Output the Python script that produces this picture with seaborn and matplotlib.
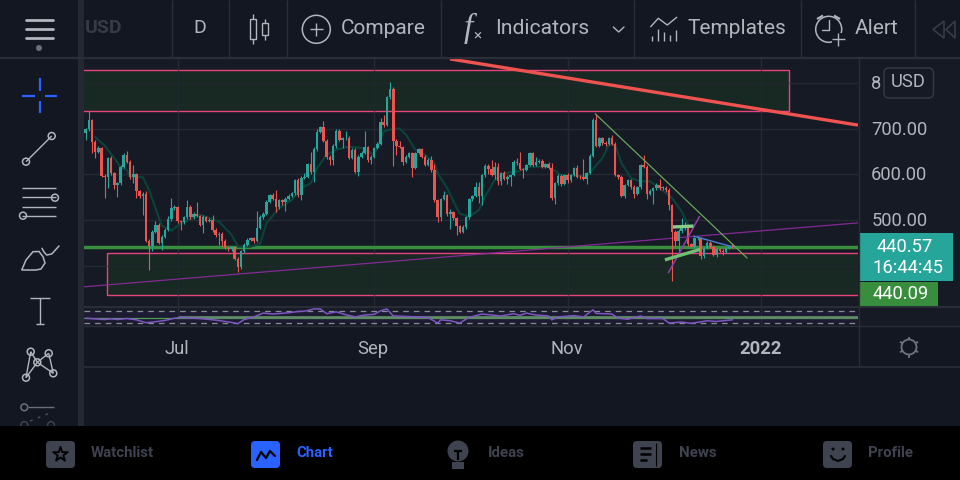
import numpy as np
import pandas as pd
import seaborn as sns
import matplotlib
matplotlib.use("Agg")
import matplotlib.pyplot as plt
from matplotlib.patches import Rectangle, Circle, FancyBboxPatch, Polygon
from matplotlib.transforms import ScaledTranslation

# ---------- data ----------
start_date = "2021-06-02"
first_open = 690
closes = [
    699,720,672,650,658,597,595,637,603,577,
    581,617,643,628,594,601,563,552,558,455,
    444,474,490,451,464,479,503,526,529,498,
    496,506,529,506,514,509,490,506,498,501,
    479,467,470,455,439,436,441,416,398,432,
    446,457,461,455,483,506,514,540,555,547,
    528,544,539,546,553,559,587,555,593,595,
    623,606,656,694,704,674,639,632,663,696,
    676,679,680,637,654,606,638,648,660,632,
    639,658,667,715,709,769,788,674,663,660,
    628,638,647,614,647,655,639,621,632,609,
    543,506,546,555,514,517,504,487,475,486,
    506,546,553,573,552,598,619,612,599,616,
    585,603,590,595,599,628,625,612,610,621,
    647,621,628,630,617,622,614,548,581,597,
    579,599,587,599,614,595,594,590,603,641,
    720,663,679,668,667,680,667,599,595,553,
    577,587,572,558,572,621,617,557,564,570,
    577,570,571,565,533,475,455,476,482,482,
    448,442,460,460,422,439,451,441,424,437,
    433,430,439,442,441,
]
wick_up = [
    3,18,2,4,4,3,3,2,3,3,
    2,4,5,9,3,20,3,3,4,5,
    3,5,9,3,3,4,5,22,5,3,
    3,4,15,4,4,25,3,5,3,3,
    11,3,3,3,3,2,3,3,3,3,
    3,4,3,3,37,5,3,3,3,5,
    18,3,3,4,4,3,3,5,3,8,
    3,27,5,5,3,13,3,3,4,3,
    3,4,16,4,3,3,4,4,36,3,
    3,3,3,8,15,3,15,3,3,11,
    3,4,3,3,3,3,3,3,3,8,
    15,3,3,8,3,8,3,3,3,3,
    3,3,3,10,10,3,3,3,20,12,
    10,3,4,4,3,3,8,24,3,3,
    3,3,11,3,3,3,5,12,3,3,
    3,3,4,3,3,6,3,40,3,3,
    3,13,3,3,5,3,6,3,3,3,
    3,4,3,5,3,3,22,3,5,3,
    4,13,3,3,6,3,3,5,22,13,
    3,3,3,6,3,3,3,3,5,3,
    3,3,3,3,8,
]
wick_dn = [
    15,3,25,13,3,3,47,25,4,8,
    27,5,3,3,5,13,15,3,40,3,
    54,12,3,3,17,3,3,4,3,4,
    17,5,3,4,3,3,3,18,3,3,
    4,4,22,12,3,3,3,3,11,5,
    3,3,3,6,3,3,3,3,3,3,
    11,3,5,20,3,3,3,5,11,3,
    3,5,22,5,3,3,5,11,11,4,
    3,18,4,3,3,3,9,3,3,4,
    8,3,3,3,5,3,3,55,20,3,
    8,3,3,20,3,3,3,3,3,3,
    3,11,7,3,5,33,3,20,3,3,
    5,3,5,3,15,18,3,11,3,8,
    8,8,3,11,20,3,5,3,17,3,
    3,3,3,3,3,3,3,3,12,3,
    5,3,5,3,3,3,3,3,10,3,
    3,3,3,3,5,3,3,3,6,3,
    5,3,3,10,3,3,3,11,3,29,
    3,3,3,3,11,108,12,31,5,3,
    5,3,3,3,8,5,3,3,3,5,
    3,6,3,3,3,
]
ma_days = [3,6,9,11,13,14,18,20,22,24,27,30,33,36,42,46,48,52,55,57,61,65,68,71,73,76,79,83,87,91,
           94,96,99,101,104,107,110,111,114,116,118,121,124,126,129,132,136,140,146,150,153,158,163,165,
           167,169,172,175,178,181,185,188,190]
ma_vals = [682,663,636,616,610,595,594,566,526,488,477,493,502,512,497,468,442,442,448,493,526,544,570,581,614,643,654,661,658,643,
           694,698,701,687,654,643,625,603,570,541,514,508,522,552,588,603,606,617,617,599,599,595,636,665,
           665,625,592,585,585,570,548,519,490]
rsi_days = [0,3,6,8,10,13,16,19,22,25,28,31,32,36,41,46,48,50,53,56,59,64,67,69,72,74,76,79,82,85,88,91,93,95,97,100,104,
            108,111,112,115,118,121,125,129,131,135,137,139,142,146,147,149,154,157,160,161,166,168,171,175,177,182,184,188,191,196,199,204]
rsi_vals = [46,44,42,44,42,45,41,32,35,39,46,49,47,45,40,33,29,42,50,62,59,63,67,68,75,75,60,66,57,50,56,58,69,75,53,52,50,
            48,31,41,38,31,49,59,55,53,60,55,62,56,53,41,50,54,50,72,61,59,46,43,53,45,45,31,34,30,38,36,41]
price_ticks = [400, 500, 600, 700, 800]
price_labels = ["", "500.00", "600.00", "700.00", "8"]
month_dates = ["2021-07-01", "2021-09-01", "2021-11-01", "2022-01-01"]
month_labels = ["Jul", "Sep", "Nov", "2022"]
last_price = 440.57
prev_price = 440.09
countdown = "16:44:45"

top_zone_days = (-30, 221.7); top_zone_prices = (738, 829)
low_zone_days = (6.7, 300); low_zone_prices = (337, 429)
purple_days = (-0.54, 243.6); purple_prices = (354, 494)
red_days = (114.9, 243.6); red_prices = (853, 708)
green_days = (160.7, 208.6); green_prices = (733, 417)
purple2_days = (183.8, 193.6); purple2_prices = (385, 508)
flag1_days = (185.2, 191.7); flag1_prices = (485, 487)
flag2_days = (182.7, 193.8); flag2_prices = (413, 436)
blue_days = (191.7, 203.8); blue_prices = (465, 442)

# ---------- colours ----------
BG = "#131722"; CHART = "#161a25"; SEP = "#2a2e39"; GRID = "#252933"
TXT = "#b2b5be"; UP = "#26a69a"; DOWN = "#ef5350"; PINK = "#e8437c"
ZONE = "#182823"; DIM = "#3f4350"

sns.set_theme(style="dark", rc={"axes.edgecolor": CHART, "axes.linewidth": 0})
plt.rcParams["font.family"] = ["Roboto", "DejaVu Sans"]

fig = plt.figure(figsize=(9.6, 4.8), dpi=100, facecolor=BG)

def add_px_axes(x0, y0, x1, y1, z):
    return fig.add_axes([x0/960, 1-y1/480, (x1-x0)/960, (y1-y0)/480], zorder=z)

# ---------- base chrome ----------
base = add_px_axes(0, 0, 960, 480, 0)
base.set_xlim(0, 960); base.set_ylim(480, 0); base.axis("off")
base.add_patch(Rectangle((858, 58), 102, 268, color=CHART, lw=0))

# ---------- price pane ----------
ax = add_px_axes(84, 58, 858, 306, 1)
ax.set_facecolor(CHART)
days = np.arange(len(closes))
c = np.array(closes, float)
o = np.r_[first_open, c[:-1]]
hi = np.maximum(o, c) + np.array(wick_up)
lo = np.minimum(o, c) - np.array(wick_dn)
cols = [UP if a >= b else DOWN for a, b in zip(c, o)]

t0 = pd.Timestamp(start_date)
tick_days = [(pd.Timestamp(d) - t0).days for d in month_dates]
xlim = (-0.54, 243.6)
ylim = (312, 855)

for v in price_ticks:
    ax.axhline(v, color=GRID, lw=1, zorder=0)
for d in tick_days:
    ax.axvline(d, color=GRID, lw=1, zorder=0)

ax.add_patch(Rectangle((top_zone_days[0], top_zone_prices[0]), top_zone_days[1]-top_zone_days[0],
                       top_zone_prices[1]-top_zone_prices[0], fc=ZONE, ec=PINK, lw=1.0, zorder=1))
ax.add_patch(Rectangle((low_zone_days[0], low_zone_prices[0]), low_zone_days[1]-low_zone_days[0],
                       low_zone_prices[1]-low_zone_prices[0], fc=ZONE, ec=PINK, lw=1.0, zorder=1))
for d in tick_days:
    ax.axvline(d, color=GRID, lw=1, alpha=0.6, zorder=1.5)
for v in price_ticks:
    ax.axhline(v, color=GRID, lw=1, alpha=0.6, zorder=1.5)
ax.axhline(prev_price, color="#388e3c", lw=2.5, zorder=2)
ax.plot(purple_days, purple_prices, color="#8e2ba0", lw=0.9, alpha=0.9, zorder=2)

sns.lineplot(x=ma_days, y=ma_vals, ax=ax, color="#0b4339", linewidth=1.5, errorbar=None, legend=False, zorder=3)

ax.vlines(days, lo, hi, colors=cols, lw=0.8, zorder=4)
ax.bar(days, np.maximum(np.abs(c-o), 1.5), bottom=np.minimum(o, c), width=0.8, color=cols, lw=0, zorder=5)

ax.plot(red_days, red_prices, color=DOWN, lw=2.4, zorder=6, solid_capstyle="butt")
ax.plot(green_days, green_prices, color="#68a65c", lw=0.9, zorder=6)
ax.plot(purple2_days, purple2_prices, color="#8e3fa8", lw=1.1, zorder=6)
ax.plot(flag1_days, flag1_prices, color="#86cf8a", lw=2.4, zorder=6, solid_capstyle="butt")
ax.plot(flag2_days, flag2_prices, color="#6fbf73", lw=2.4, zorder=6, solid_capstyle="butt")
ax.plot(blue_days, blue_prices, color="#4a7fd0", lw=1, zorder=6)

ax.set_xlim(*xlim); ax.set_ylim(*ylim)
ax.set_xlabel(""); ax.set_ylabel("")
ax.set_xticks([])
ax.yaxis.tick_right()
ax.set_yticks(price_ticks, price_labels)
ax.tick_params(axis="y", length=0, pad=9.5, labelsize=13.2, labelcolor=TXT)
up1 = ScaledTranslation(0, 1/100, fig.dpi_scale_trans)
for t in ax.get_yticklabels():
    t.set_transform(t.get_transform() + up1)
ax.grid(False)

# ---------- RSI pane ----------
rx = add_px_axes(84, 307, 858, 326, 1)
rx.set_facecolor("#181c28")
rx.axhspan(30, 70, color="#1c1b31", lw=0, zorder=0)
for d in tick_days:
    rx.axvline(d, color=GRID, lw=1, zorder=0)
for lev in (30, 70):
    rx.axhline(lev, color="#8a8d96", lw=0.9, ls=(0, (4.5, 4)), zorder=1)
rx.axhline(47.5, color="#4f9d54", lw=0.9, zorder=2)
rx.plot((tick_days[0], xlim[1]), (49.5, 49.5), color="#5f8a66", lw=2, zorder=2, solid_capstyle="butt")
sns.lineplot(x=rsi_days, y=rsi_vals, ax=rx, color="#7e57c2", linewidth=1.1, errorbar=None, legend=False, zorder=3)
rx.set_xlim(*xlim); rx.set_ylim(21.7, 81)
rx.set_xlabel(""); rx.set_ylabel("")
rx.set_yticks([])
rx.set_xticks(tick_days, month_labels)
rx.tick_params(axis="x", length=0, pad=10, labelsize=13.2, labelcolor=TXT)
left1 = ScaledTranslation(-1/100, 0, fig.dpi_scale_trans)
for t in rx.get_xticklabels()[:-1]:
    t.set_transform(t.get_transform() + left1)
rx.get_xticklabels()[-1].set_fontweight("bold")
rx.grid(False)

# ---------- overlay chrome ----------
ov = add_px_axes(0, 0, 960, 480, 5)
ov.set_xlim(0, 960); ov.set_ylim(480, 0); ov.axis("off"); ov.patch.set_alpha(0)

def seg(x0, y0, x1, y1, color=SEP, lw=1.0, **k):
    ov.plot([x0, x1], [y0, y1], color=color, lw=lw, solid_capstyle=k.pop("cap", "butt"), **k)

def ring(x, y, r, color=TXT, lw=1.1, fc="none"):
    ov.add_patch(Circle((x, y), r, fc=fc, ec=color, lw=lw))

def label(x, y, s, color=TXT, size=15, ha="left", weight="normal", **k):
    ov.text(x, y, s, color=color, fontsize=size, ha=ha, va="center", fontweight=weight, **k)

# panels and separators
ov.add_patch(Rectangle((0, 0), 960, 57, color=BG, lw=0))
ov.add_patch(Rectangle((0, 57), 78, 369, color=BG, lw=0))
ov.add_patch(Rectangle((78, 0), 6, 426, color="#242833", lw=0))
ov.add_patch(Rectangle((84, 366), 876, 60, color=BG, lw=0))
ov.add_patch(Rectangle((0, 426), 960, 54, color="#000000", lw=0))
seg(0, 57.5, 960, 57.5, lw=1.6)
seg(84, 306.5, 960, 306.5, lw=1.4)
seg(84, 326, 960, 326, lw=1)
seg(84, 366.5, 960, 366.5, lw=1.2)
seg(858.5, 57, 858.5, 366, lw=1)
for x in (172, 229, 287, 441, 634, 801, 915):
    seg(x, 0, x, 57, lw=1)

# top bar
for y in (19.7, 29, 38):
    seg(26, y, 52.5, y, color=TXT, lw=2, cap="round")
ov.add_patch(Circle((39, 48), 3, color="#6b6f7a", lw=0))
label(104, 28, "USD", color="#363a45", size=14, ha="center", weight="bold",
      clip_on=True, clip_path=Rectangle((85, 0), 100, 57, transform=ov.transData))
label(200, 28, "D", ha="center", size=14)
for bx, bw, by, bh, wx, w0, w1 in ((249.7, 6.3, 19, 20.3, 253, 14, 43.5), (261.7, 6.6, 23.3, 11.7, 265, 19, 39.5)):
    seg(wx, w0, wx, by, color=TXT); seg(wx, by+bh, wx, w1, color=TXT)
    ov.add_patch(Rectangle((bx, by), bw, bh, fc="none", ec=TXT, lw=1))
ring(316.3, 29.3, 14)
seg(310, 29.3, 322.6, 29.3, color=TXT); seg(316.3, 23, 316.3, 35.6, color=TXT)
label(341, 28, "Compare", size=15)
ov.text(468, 28, "f", color=TXT, fontsize=24, family="Liberation Serif", style="italic", ha="center", va="center")
ov.text(477, 36, "×", color=TXT, fontsize=11, ha="center", va="center")
label(495, 28, "Indicators", size=15.2)
ov.plot([613.3, 618.7, 624], [27, 32, 27], color=TXT, lw=1)
ov.plot([650.7, 658.3, 667.3, 676.7], [26.7, 18.3, 25, 17.3], color=TXT, lw=1)
for x, top in zip((651.7, 657.7, 663.7, 669.7, 675.7), (36, 29.3, 31.7, 35, 30)):
    seg(x, 40.7, x, top, color=TXT, lw=1)
label(688, 28, "Templates", size=15)
ring(828.7, 29.3, 13)
ov.plot([828.7, 828.7, 822], [20, 29.5, 29.5], color=TXT, lw=1)
seg(817, 19, 823, 15.5, color=TXT, lw=1.5); seg(834, 15.5, 840, 19, color=TXT, lw=1.5)
ov.add_patch(Rectangle((832, 33), 12.5, 12.5, color=BG, lw=0))
seg(832, 39.3, 844.6, 39.3, color=TXT); seg(838.3, 33, 838.3, 45.5, color=TXT)
label(855, 28, "Alert", size=15)
ov.add_patch(Polygon([(944, 21), (933, 29.5), (944, 38)], fc="none", ec="#3a3e49", lw=1.1))
ov.add_patch(Polygon([(955, 21), (946, 29.5), (955, 38)], fc="none", ec="#3a3e49", lw=1.1))

# USD chip and price tags
ov.add_patch(FancyBboxPatch((884, 68), 49.5, 30, boxstyle="round,pad=0,rounding_size=5", fc=CHART, ec="#363a45", lw=1))
label(908.5, 82, "USD", ha="center", size=13.2)
ov.add_patch(Rectangle((859, 233), 94, 48, color=UP, lw=0))
label(905, 247, f"{last_price:.2f}", color="white", ha="center", size=13.2)
label(908, 268, countdown, color="white", ha="center", size=13.2)
ov.add_patch(Rectangle((859, 282), 79, 24, color="#388e3c", lw=0))
label(901, 294, f"{prev_price:.2f}", color="white", ha="center", size=13.2)

# gear
ring(909, 347, 7.5, color="#6f7380", lw=1.3)
for a in np.deg2rad(np.arange(0, 360, 60) + 30):
    seg(909+7.5*np.cos(a), 347+7.5*np.sin(a), 909+10.5*np.cos(a), 347+10.5*np.sin(a), color="#6f7380", lw=1.3)

# left tools
BLUE = "#2962ff"
seg(22, 95.7, 34.7, 95.7, color=BLUE, lw=1.6); seg(45, 95.7, 57, 95.7, color=BLUE, lw=1.6)
seg(39.7, 78, 39.7, 90.7, color=BLUE, lw=1.6); seg(39.7, 100.7, 39.7, 112.7, color=BLUE, lw=1.6)
seg(26, 161.7, 51.7, 136, color=TXT)
ring(26, 161.7, 3.5, fc=BG); ring(51.7, 136, 3.5, fc=BG)
for y in (188.3, 197.3, 206.7, 215.7):
    seg(22, y, 55.7, y, color=TXT)
ring(55, 197.7, 3.5, fc=BG); ring(23, 215.7, 3.5, fc=BG)
ov.add_patch(Polygon([(21.7, 270), (26, 260), (33, 251.7), (39, 251.5), (43, 256.7), (45, 263), (41, 269), (36, 270)], fc="none", ec=TXT, lw=1.1))
ov.plot([42, 44, 46.7, 51.7, 59], [248.3, 252, 255, 254, 246], color=TXT, lw=1.1)
seg(30, 298, 50, 298, color=TXT); seg(40, 298, 40, 324, color=TXT); seg(35.7, 324, 44.3, 324, color=TXT)
pts = {"a": (30.7, 351.7), "b": (48.7, 353.3), "c": (37.3, 362.3), "d": (26, 377.7), "e": (53.3, 373.3)}
for p, q in (("a", "c"), ("a", "d"), ("b", "c"), ("b", "e"), ("c", "d"), ("c", "e")):
    seg(*pts[p], *pts[q], color=TXT)
for p in pts.values():
    ring(*p, 3.5, fc=BG)
seg(28, 407.3, 54, 407.3, color="#6b6f7a"); ring(24.3, 407.3, 3.4, color="#6b6f7a", fc=BG)
ov.plot([30, 50], [421, 413], color="#4c505b", lw=1, ls=(0, (2, 4)))
ring(24.3, 425, 3.4, color="#3f4350", fc=BG); ring(51, 425, 3.4, color="#3f4350", fc=BG)
ov.add_patch(Rectangle((0, 425.5), 78, 55, color="#000000", lw=0))

# bottom bar
def tab(x, w, col, text, tx, tcol):
    ov.add_patch(FancyBboxPatch((x, 441), w, 27, boxstyle="round,pad=0,rounding_size=4", fc=col, ec="none"))
    label(tx, 453, text, color=tcol, size=10.8, weight="bold")

tab(46, 29, DIM, "Watchlist", 91, DIM)
ov.scatter([60.5], [454.5], marker="*", s=120, fc="none", ec="black", lw=1.3)
tab(251, 29, BLUE, "Chart", 296, BLUE)
ov.plot([257, 261, 266, 270, 275], [460, 452, 458, 451, 456], color="black", lw=1.6)
ov.add_patch(Circle((458, 451), 10.5, color=DIM, lw=0))
ov.add_patch(Rectangle((452, 462), 12, 7, color=DIM, lw=0))
seg(458, 452, 458, 459.5, color="black", lw=1.6); seg(454, 450.5, 462, 450.5, color="black", lw=1.6)
label(488, 453, "Ideas", color=DIM, size=10.8, weight="bold")
tab(633, 29, DIM, "News", 679, DIM)
for y, xe in ((448, 651), (454, 651), (460, 647)):
    seg(640, y, xe, y, color="black", lw=1.8)
seg(656, 443, 656, 466, color="black", lw=0.8)
tab(823, 29, DIM, "Profile", 868, DIM)
ov.add_patch(Circle((833, 449), 1.5, color="black", lw=0)); ov.add_patch(Circle((843, 449), 1.5, color="black", lw=0))
ov.plot([831, 833, 838, 843, 845], [456, 459, 461, 459, 456], color="black", lw=1.5)

fig.savefig("out.png", dpi=100, facecolor=BG)
